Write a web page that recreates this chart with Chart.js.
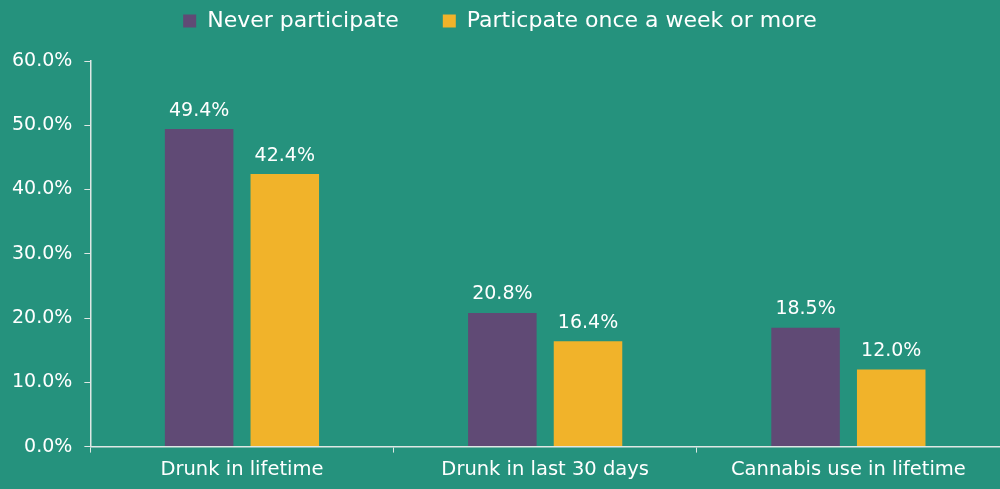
<!DOCTYPE html>
<html>
<head>
<meta charset="utf-8">
<script src="https://cdn.jsdelivr.net/npm/chart.js@4"></script>
<style>
  html, body { margin: 0; padding: 0; background: #25927d; }
  #wrap { width: 1000px; height: 489px; }
</style>
</head>
<body>
<div id="wrap"><canvas id="chart" width="1000" height="489"></canvas></div>
<script>
const categories = ["Drunk in lifetime", "Drunk in last 30 days", "Cannabis use in lifetime"];
const neverValues = [49.4, 20.8, 18.5];
const weeklyValues = [42.4, 16.4, 12.0];
const seriesNames = ["Never participate", "Particpate once a week or more"];

const fontFamily = "'DejaVu Sans', sans-serif";
const lineColor = "#dfe8e5";

// draws the value above each bar
const valueLabels = {
    id: 'valueLabels',
    afterDatasetsDraw(chart) {
        const ctx = chart.ctx;
        ctx.save();
        ctx.fillStyle = "#ffffff";
        ctx.font = "19px " + fontFamily;
        ctx.textAlign = "center";
        ctx.textBaseline = "bottom";
        chart.data.datasets.forEach((ds, i) => {
            chart.getDatasetMeta(i).data.forEach((bar, j) => {
                ctx.fillText(ds.data[j].toFixed(1) + "%", bar.x, bar.y - 9);
            });
        });
        ctx.restore();
    }
};

// legend padding is big (for the gap between items), so fix its height by hand
const legendSpace = {
    id: 'legendSpace',
    beforeInit(chart) {
        const origFit = chart.legend.fit;
        chart.legend.fit = function () {
            origFit.bind(chart.legend)();
            this.height = 95;
        };
    }
};

new Chart(document.getElementById("chart"), {
    type: 'bar',
    data: {
        labels: categories,
        datasets: [{
            label: seriesNames[0],
            data: neverValues,
            backgroundColor: "#604a75",
            categoryPercentage: 0.565,
            barPercentage: 0.8
        }, {
            label: seriesNames[1],
            data: weeklyValues,
            backgroundColor: "#f1b32a",
            categoryPercentage: 0.565,
            barPercentage: 0.8
        }]
    },
    options: {
        responsive: false,
        animation: false,
        layout: { padding: { top: -34, right: 0, left: 0, bottom: 1 } },
        scales: {
            y: {
                min: 0,
                max: 60,
                ticks: {
                    stepSize: 10,
                    color: "#ffffff",
                    font: { family: fontFamily, size: 19 },
                    padding: 12,
                    callback: v => v.toFixed(1) + "%"
                },
                grid: {
                    drawOnChartArea: false,
                    color: lineColor,
                    tickLength: 6
                },
                border: { color: lineColor, width: 1.5 }
            },
            x: {
                ticks: {
                    color: "#ffffff",
                    font: { family: fontFamily, size: 19.5 },
                    padding: 6
                },
                grid: {
                    drawOnChartArea: false,
                    color: lineColor,
                    tickLength: 6
                },
                border: { color: lineColor, width: 1.5 }
            }
        },
        plugins: {
            legend: {
                position: 'top',
                labels: {
                    color: "#ffffff",
                    font: { family: fontFamily, size: 22 },
                    boxWidth: 13,
                    boxHeight: 13,
                    padding: 44
                }
            },
            tooltip: { enabled: false }
        }
    },
    plugins: [valueLabels, legendSpace]
});
</script>
</body>
</html>
